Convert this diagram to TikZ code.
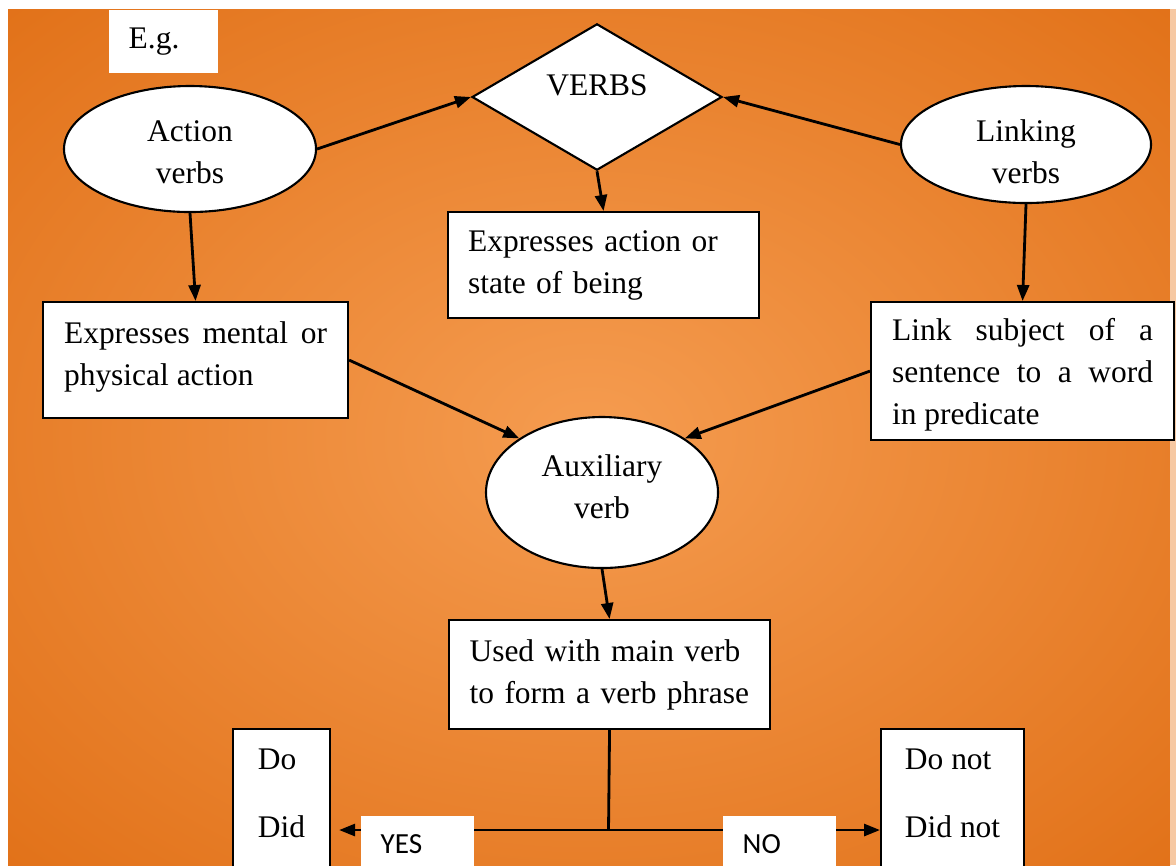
\documentclass[tikz,border=0pt]{standalone}
\usepackage{fontspec}
\setmainfont{Liberation Serif}
\newfontfamily\calibrifont{Carlito}
\usetikzlibrary{shapes.geometric,arrows.meta,positioning}

\definecolor{glowin}{HTML}{F59C50}
\definecolor{glowout}{HTML}{DE6A0F}
\definecolor{rim}{HTML}{F6C8A2}
\pgfdeclareradialshading{glow}{\pgfpointorigin}{color(0bp)=(glowin); color(42bp)=(glowout); color(75bp)=(glowout)}

\tikzset{
  txt/.style={font=\fontsize{8.95}{11.95}\selectfont},
  card/.style={txt, draw, fill=white, line width=0.6pt, rectangle, anchor=north west, inner xsep=0.21cm},
  oval/.style={txt, draw, fill=white, line width=0.6pt, ellipse, align=center, inner sep=0pt},
  tagbox/.style={fill=white, anchor=north west, inner xsep=0.2cm, align=left},
  link/.style={->, line width=0.8pt},
}

\begin{document}
\begin{tikzpicture}[>={Triangle[length=0.16cm,width=0.12cm]}]
\useasboundingbox (0,0) rectangle (11.76,-8.65);
\clip (0,0) rectangle (11.76,-8.65);
\fill[white] (0,0) rectangle (11.76,-8.65);
\shade[shading=glow] (0.08,-0.09) rectangle (11.70,-8.65);
\fill[rim] (11.70,-0.09) rectangle (11.76,-8.65);

\node[tagbox, txt, minimum width=1.09cm, minimum height=0.63cm, text width=0.69cm] (eg) at (1.08,-0.09) {E.g.};

\node[txt, draw, fill=white, line width=0.6pt, diamond, inner sep=0pt, minimum width=2.50cm, minimum height=1.42cm, text height=0.21cm, text depth=0.24cm] (verbs) at (5.97,-0.97) {VERBS};
\node[oval, minimum width=2.52cm, minimum height=1.26cm] (action) at (1.90,-1.49) {\rule{0pt}{0.27cm}Action\\verbs};
\node[oval, minimum width=2.50cm, minimum height=1.17cm] (linking) at (10.26,-1.445) {\rule{0pt}{0.36cm}Linking\\verbs};

\node[card, inner xsep=0.20cm, text width=2.71cm, align=left, minimum height=1.06cm] (state) at (4.47,-2.11) {Expresses action or\\state of being};
\node[card, text width=2.63cm, align=justify, minimum height=1.16cm] (mental) at (0.42,-3.01) {Expresses mental or\linebreak physical action\rule[-0.12cm]{0pt}{0.12cm}};
\node[card, inner ysep=0.05cm, text width=2.61cm, align=justify, minimum height=1.38cm] (subject) at (8.70,-3.01) {\rule{0pt}{0.30cm}Link subject of a\linebreak sentence to a word\linebreak in predicate};

\node[oval, minimum width=2.32cm, minimum height=1.51cm] (aux) at (6.02,-4.925) {Auxiliary\\verb\rule[-0.11cm]{0pt}{0.11cm}};
\node[card, inner xsep=0.205cm, text width=2.80cm, align=left, minimum height=1.09cm] (used) at (4.48,-6.19) {Used with main verb\\to form a verb phrase};

\node[card, align=left, minimum width=0.97cm, minimum height=1.97cm] (yeslist) at (2.32,-7.28) {Do\\[0.26cm]Did\\[0.26cm]\mbox{}};
\node[card, inner xsep=0.22cm, align=left, minimum width=1.43cm, minimum height=1.97cm] (nolist) at (8.80,-7.28) {Do not\\[0.26cm]Did not\\[0.26cm]\mbox{}};

\draw[link] (action.east) -- (verbs.west);
\draw[link] (linking.west) -- (verbs.east);
\draw[link] (verbs.south) -- (state.north);
\draw[link] (action.south) -- (mental.north);
\draw[link] (linking.south) -- (subject.north);
\draw[link] (mental.east) -- (aux.north west);
\draw[link] (subject.west) -- (aux.north east);
\draw[link] (aux.south) -- (used.north);

\coordinate (split) at (6.085,-8.30);
\draw[line width=0.8pt] (used.south) -- (split);
\draw[link, shorten >=0.08cm] (split) -- (yeslist.east |- split);
\draw[link] (split) -- (nolist.west |- split);

\node[tagbox, font=\calibrifont\fontsize{8.3}{10}\selectfont, minimum width=1.13cm, minimum height=0.56cm, text width=0.73cm] (yes) at (3.60,-8.15) {YES};
\node[tagbox, font=\calibrifont\fontsize{8.3}{10}\selectfont, minimum width=1.13cm, minimum height=0.56cm, text width=0.73cm] (no) at (7.22,-8.15) {NO};
\end{tikzpicture}
\end{document}
